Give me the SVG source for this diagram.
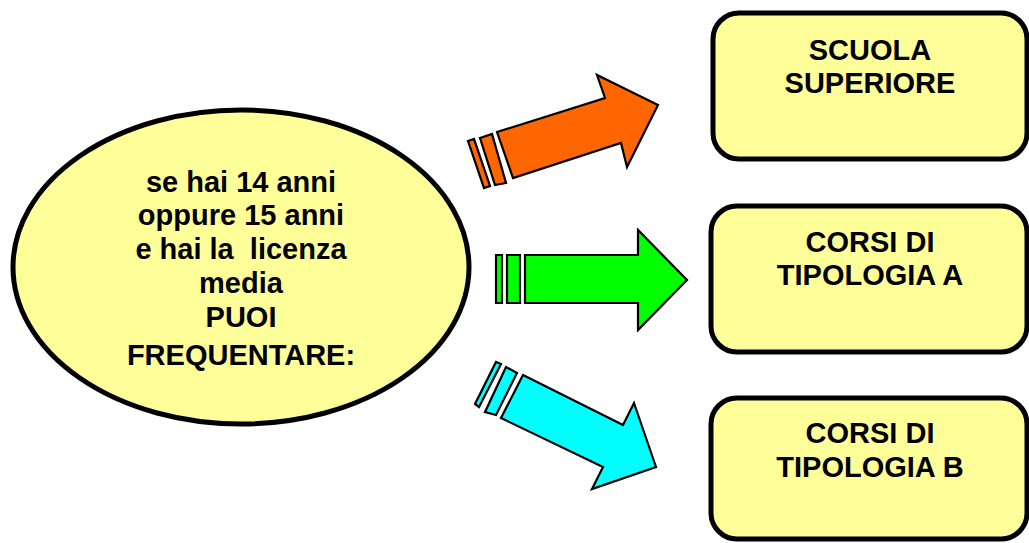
<svg xmlns="http://www.w3.org/2000/svg" width="1029" height="543" viewBox="0 0 1029 543">
<style>
.node{fill:#FFFF99;stroke:#000;stroke-width:5}
.t{font-family:"Liberation Sans",Arial,sans-serif;font-weight:bold;font-size:29px;fill:#000;text-anchor:middle;white-space:pre}
.arr{stroke:#000;stroke-width:2.2;stroke-linejoin:miter}
.o{fill:#FF6600}.g{fill:#00FF00}.c{fill:#00FFFF}
</style>
<rect width="1029" height="543" fill="#fff"/>
<g id="center">
<ellipse class="node" cx="241" cy="267" rx="228" ry="157" stroke-width="4.5"/>
<text class="t" x="241" y="192">se hai 14 anni</text>
<text class="t" x="241" y="225">oppure 15 anni</text>
<text class="t" x="241" y="259" xml:space="preserve">e hai la  licenza</text>
<text class="t" x="241" y="293">media</text>
<text class="t" x="241" y="327">PUOI</text>
<text class="t" x="241" y="365">FREQUENTARE:</text>
</g>
<g id="box1">
<rect class="node" x="713" y="13" width="314" height="146" rx="26"/>
<text class="t" x="870" y="60">SCUOLA</text>
<text class="t" x="870" y="93">SUPERIORE</text>
</g>
<g id="box2">
<rect class="node" x="711" y="206" width="316" height="146" rx="26"/>
<text class="t" x="870" y="252">CORSI DI</text>
<text class="t" x="870" y="285">TIPOLOGIA A</text>
</g>
<g id="box3">
<rect class="node" x="711" y="398" width="316" height="141" rx="26"/>
<text class="t" x="870" y="443">CORSI DI</text>
<text class="t" x="870" y="477">TIPOLOGIA B</text>
</g>
<g id="connectors">
<g id="arrow1" class="arr o">
<polygon points="468,141 474,139 490,186 484,188"/>
<polygon points="480,138 492,134 506,183 495,185"/>
<polygon points="497,132 605,98 597,75 658,105 627,167 621,143 513,178"/>
</g>
<g id="arrow2" class="arr g">
<polygon points="496,255 502,255 502,303 496,303"/>
<polygon points="507,255 520,255 520,303 507,303"/>
<polygon points="525,255 638,255 638,230 687,280 638,330 638,303 525,303"/>
</g>
<g id="arrow3" class="arr c">
<polygon points="475,404 496,362 501,364 479,407"/>
<polygon points="485,412 506,367 517,373 496,415"/>
<polygon points="523,375 623,425 634,403 656,467 592,489 603,467 501,418"/>
</g>
</g>
</svg>
